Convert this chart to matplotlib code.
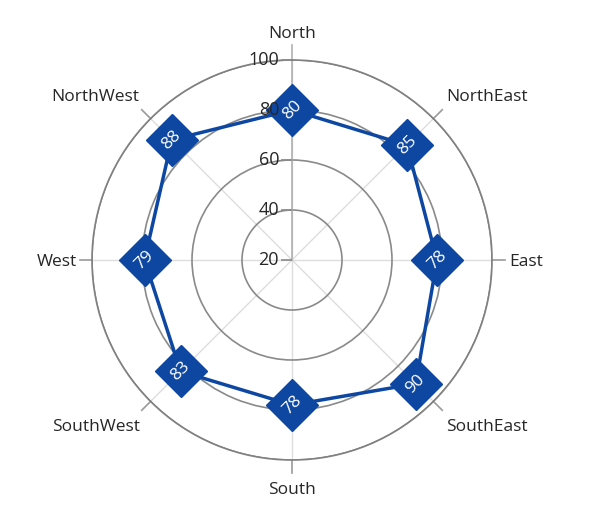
import numpy as np
import matplotlib
matplotlib.use("Agg")
import matplotlib.pyplot as plt
from matplotlib.path import Path

plt.rcParams["font.family"] = ["Open Sans", "DejaVu Sans"]

directions = ["North", "NorthEast", "East", "SouthEast",
              "South", "SouthWest", "West", "NorthWest"]
values = [80, 85, 78, 90, 78, 83, 79, 88]
r_ticks = [20, 40, 60, 80, 100]

# label offsets in pixels from the outer ring (dx, dy, ha)
label_offsets = [(0, 26, "center"), (13, 22, "left"), (17, -2, "left"),
                 (13, -26, "left"), (0, -30, "center"), (-11, -26, "right"),
                 (-15, -2, "right"), (-11, 22, "right")]

blue = "#0D47A1"
W, H = 600, 519
cx, cy, R = 292, 260, 200

fig = plt.figure(figsize=(W / 100, H / 100), dpi=100)
ax = fig.add_axes([(cx - R) / W, (H - cy - R) / H, 2 * R / W, 2 * R / H],
                  projection="polar")
ax.set_theta_zero_location("N")
ax.set_theta_direction(-1)
ax.set_ylim(20, 100)

theta = np.deg2rad(np.arange(len(directions)) * 45)

# grid
ax.set_xticks(theta)
ax.set_xticklabels([])
ax.set_yticks(r_ticks)
ax.set_yticklabels([])
ax.xaxis.grid(True, color="#dddddd", lw=1)
ax.yaxis.grid(True, color="#8a8a8a", lw=1.2)
ax.spines["polar"].set_color("#808080")
ax.spines["polar"].set_linewidth(1.2)
ax.tick_params(length=0)

# radial axis line on north spoke
ax.plot([0, 0], [20, 106], color="#b0b0b0", lw=1.2, clip_on=False, zorder=2)

# outer tick marks for the angular axis
for t in theta[1:]:
    ax.plot([t, t], [100, 105], color="#9a9a9a", lw=1.2, clip_on=False)

# angular labels
for t, name, (dx, dy, ha) in zip(theta, directions, label_offsets):
    ax.annotate(name, xy=(t, 100), xytext=(dx, dy), textcoords="offset pixels",
                ha=ha, va="center", fontsize=12.5, color="#262626",
                annotation_clip=False)

# radial tick labels with small tick marks
tick_marker = Path([(-1, 0), (0, 0)])
for r in r_ticks:
    ax.plot([0], [r], marker=tick_marker, ms=16, mec="#8a8a8a", mew=1.2,
            clip_on=False, zorder=3)
    ax.annotate(str(r), xy=(0, r), xytext=(-13, 0), textcoords="offset pixels",
                ha="right", va="center", fontsize=13, color="#262626",
                annotation_clip=False, zorder=7)

# data line
th_closed = np.append(theta, theta[0])
v_closed = values + values[:1]
ax.plot(th_closed, v_closed, color=blue, lw=2.5, zorder=4, clip_on=False)
ax.plot(theta, values, ls="none", marker="D", ms=26, color=blue,
        mec=blue, zorder=5, clip_on=False)

for t, v in zip(theta, values):
    ax.text(t, v, str(v), rotation=45, ha="center", va="center",
            rotation_mode="anchor", fontsize=12.5, color="white", zorder=6)

fig.savefig("out.png", dpi=100)
